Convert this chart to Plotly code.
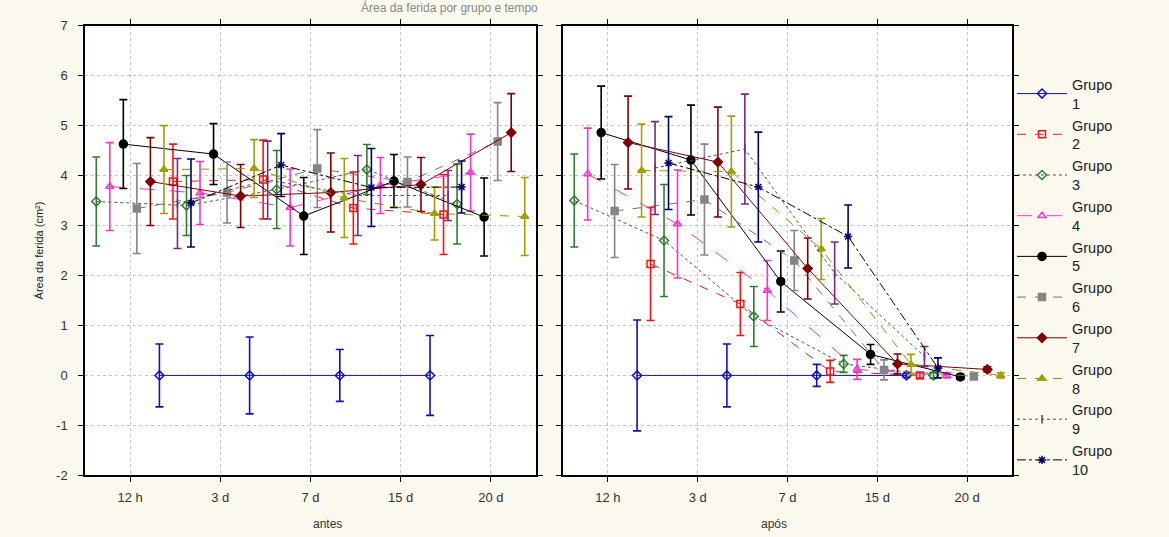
import plotly.graph_objects as go

tempos = ["12 h", "3 d", "7 d", "15 d", "20 d"]
grupos = [f"Grupo<br>{k}" for k in range(1, 11)]
y_ticks = [-2, -1, 0, 1, 2, 3, 4, 5, 6, 7]
y_ticklabels = ["-2", "-1", "0", "1", "2", "3", "4", "5", "6", "7"]

# médias (antes)
g1_antes = [None, 0.0, 0.0, 0.0, 0.0]
g2_antes = [None, 3.88, 3.92, 3.35, 3.22]
g3_antes = [3.48, 3.40, 3.72, 4.12, 3.43]
g4_antes = [3.78, 3.65, 3.36, 3.80, 4.06]
g5_antes = [4.63, 4.43, 3.19, 3.89, 3.17]
g6_antes = [3.34, 3.66, 4.14, 3.87, 4.68]
g7_antes = [3.88, 3.59, 3.66, 3.82, 4.86]
g8_antes = [4.12, 4.14, 3.55, 3.24, 3.18]
g9_antes = [3.44, 3.91, 3.60, 3.60, None]
g10_antes = [3.45, 4.21, 3.76, 3.77, None]

# intervalos (antes)
g1_antes_ic = [None, 0.63, 0.77, 0.52, 0.80]
g2_antes_ic = [None, 0.75, 0.79, 0.72, 0.80]
g3_antes_ic = [0.89, 0.60, 0.78, 0.50, 0.80]
g4_antes_ic = [0.88, 0.63, 0.77, 0.56, 0.77]
g5_antes_ic = [0.89, 0.61, 0.77, 0.53, 0.78]
g6_antes_ic = [0.90, 0.61, 0.78, 0.50, 0.78]
g7_antes_ic = [0.88, 0.63, 0.79, 0.54, 0.78]
g8_antes_ic = [0.88, 0.58, 0.79, 0.53, 0.78]
g9_antes_ic = [0.90, 0.78, 0.80, 0.50, None]
g10_antes_ic = [0.88, 0.63, 0.78, 0.52, None]

# médias (após)
g1_apos = [None, 0.0, 0.0, 0.0, 0.0]
g2_apos = [None, 2.23, 1.43, 0.08, 0.0]
g3_apos = [3.50, 2.70, 1.18, 0.23, 0.0]
g4_apos = [4.03, 3.03, 1.70, 0.12, 0.0]
g5_apos = [4.86, 4.31, 1.88, 0.42, -0.03]
g6_apos = [3.29, 3.52, 2.30, 0.11, -0.02]
g7_apos = [4.66, 4.27, 2.14, 0.23, 0.12]
g8_apos = [4.10, 4.08, 2.53, 0.22, 0.0]
g9_apos = [4.15, 4.53, 2.05, 0.38, None]
g10_apos = [4.25, 3.77, 2.78, 0.15, None]

# intervalos (após)
g1_apos_ic = [None, 1.11, 0.63, 0.22, 0.04]
g2_apos_ic = [None, 1.13, 0.63, 0.22, 0.05]
g3_apos_ic = [0.93, 1.12, 0.60, 0.17, 0.06]
g4_apos_ic = [0.92, 1.08, 0.60, 0.20, 0.05]
g5_apos_ic = [0.93, 1.10, 0.61, 0.20, 0.05]
g6_apos_ic = [0.93, 1.11, 0.60, 0.20, 0.05]
g7_apos_ic = [0.93, 1.10, 0.61, 0.20, 0.05]
g8_apos_ic = [0.93, 1.11, 0.61, 0.20, 0.05]
g9_apos_ic = [0.93, 1.10, 0.62, 0.20, None]
g10_apos_ic = [0.93, 1.10, 0.63, 0.20, None]

antes = [g1_antes, g2_antes, g3_antes, g4_antes, g5_antes, g6_antes, g7_antes, g8_antes, g9_antes, g10_antes]
antes_ic = [g1_antes_ic, g2_antes_ic, g3_antes_ic, g4_antes_ic, g5_antes_ic, g6_antes_ic, g7_antes_ic, g8_antes_ic, g9_antes_ic, g10_antes_ic]
apos = [g1_apos, g2_apos, g3_apos, g4_apos, g5_apos, g6_apos, g7_apos, g8_apos, g9_apos, g10_apos]
apos_ic = [g1_apos_ic, g2_apos_ic, g3_apos_ic, g4_apos_ic, g5_apos_ic, g6_apos_ic, g7_apos_ic, g8_apos_ic, g9_apos_ic, g10_apos_ic]

# styles
cores = ["#1010C0", "#FF1010", "#2F7F2F", "#FF30D0", "#000000", "#858585", "#800000", "#A0A000", "#7A2A7A", "#000070"]
cores_linha = ["#1010C0", "#E02020", "#505050", "#FF30D0", "#000000", "#707070", "#800000", "#909000", "#505050", "#000000"]
tracos = ["solid", "dash", "dot", "longdash", "solid", "dash", "solid", "dash", "dot", "dashdot"]
simbolos = ["diamond-open", "square-open", "diamond-open", "triangle-up-open", "circle", "square",
            "diamond", "triangle-up", "line-ns-open", "asterisk-open"]
tamanhos = [7, 7, 7, 7, 8, 7, 7, 7, 6, 7]

fig = go.Figure()
for k in range(10):
    off = (k - 4.5) * 0.15
    xs = [i + off for i in range(len(tempos))]
    for painel, (yv, ic) in enumerate([(antes[k], antes_ic[k]), (apos[k], apos_ic[k])]):
        fig.add_trace(go.Scatter(
            x=xs, y=yv,
            mode="lines+markers",
            name=grupos[k],
            legendgroup=f"g{k}",
            showlegend=(painel == 1),
            line=dict(color=cores_linha[k], width=1, dash=tracos[k]),
            marker=dict(symbol=simbolos[k], size=tamanhos[k], color=cores[k],
                        line=dict(color=cores[k], width=1.5)),
            error_y=dict(type="data", array=ic, visible=True, color=cores[k], thickness=1.6, width=4),
            xaxis="x" if painel == 0 else "x2",
            yaxis="y" if painel == 0 else "y2",
        ))

W, H = 1169, 537
top_px, bot_px = 19.2, 481.8
ydom = [1 - bot_px / H, 1 - top_px / H]

eixo = dict(showline=True, linecolor="black", linewidth=1.5, mirror="ticks", ticks="outside",
            ticklen=5, tickcolor="black", showgrid=True, gridcolor="#C4C4C4", griddash="dot",
            gridwidth=1, zeroline=False, tickfont=dict(family="Liberation Sans", size=13, color="#333"))

fig.update_layout(
    width=W, height=H,
    margin=dict(l=0, r=0, t=0, b=0),
    paper_bgcolor="#FBF9EE",
    plot_bgcolor="white",
    font=dict(family="Liberation Sans", color="#222"),
    xaxis=dict(domain=[85 / W, 536 / W], range=[-0.5, 4.5], tickvals=list(range(5)), ticktext=tempos,
               anchor="y", ticklabelstandoff=4, **eixo),
    xaxis2=dict(domain=[563 / W, 1012 / W], range=[-0.5, 4.5], tickvals=list(range(5)), ticktext=tempos,
                anchor="y2", ticklabelstandoff=4, **eixo),
    yaxis=dict(domain=ydom, range=[-2, 7], tickvals=y_ticks, ticktext=y_ticklabels, anchor="x",
               ticklabelstandoff=8,
               title=dict(text="Área da ferida (cm²)", font=dict(size=11, family="Liberation Sans"), standoff=10),
               **eixo),
    yaxis2=dict(domain=ydom, range=[-2, 7], tickvals=y_ticks, anchor="x2", matches="y",
                showticklabels=False, **eixo),
    legend=dict(x=1012 / W, y=1 - 63 / H, xanchor="left", yanchor="top", bgcolor="rgba(0,0,0,0)",
                font=dict(family="Liberation Sans", size=14.5, color="#222"), tracegroupgap=0,
                itemwidth=50),
    annotations=[
        dict(text="antes", x=311 / W, y=1 - 532 / H, xref="paper", yref="paper", showarrow=False,
             font=dict(size=12, color="#333"), yanchor="middle"),
        dict(text="após", x=789 / W, y=1 - 532 / H, xref="paper", yref="paper", showarrow=False,
             font=dict(size=12, color="#333"), yanchor="middle"),
        dict(text="Área da ferida por grupo e tempo", x=450 / W, y=1 - 1 / H, xref="paper", yref="paper",
             showarrow=False, font=dict(size=12, color="#888"), yanchor="middle"),
    ],
)

fig.write_html("out.html")
